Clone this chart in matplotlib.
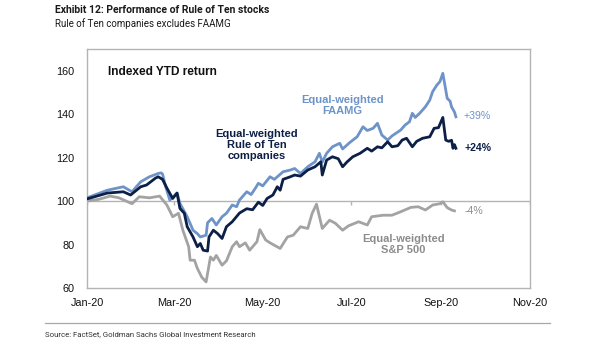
"""
Exhibit 12 -- Performance of Rule of Ten stocks (indexed YTD return, 2020).
Values read off the published chart.
"""
import matplotlib
matplotlib.use("Agg")
import matplotlib.pyplot as plt
import pandas as pd

START = pd.Timestamp("2020-01-01")

# day offsets from 1 Jan 2020 and index levels, per series
SPX_DAYS = [0, 8, 16, 22, 28, 31, 36, 43, 50, 55, 59, 63, 66, 70, 71, 74, 76, 79, 82,
            85, 87, 89, 93, 96, 100, 103, 105, 109, 112, 117, 119, 123, 126, 133, 138,
            142, 147, 152, 155, 158, 162, 167, 171, 176, 180, 187, 193, 196, 204, 210,
            216, 223, 228, 233, 238, 243, 245, 248, 251, 253]
SPX_VALS = [100.0, 100.8, 102.3, 101.5, 99.7, 98.8, 102.0, 101.5, 102.3, 98.2, 92.8,
            94.4, 86.6, 79.0, 72.8, 72.8, 69.0, 65.0, 62.8, 74.3, 72.8, 75.0, 70.5, 72.5,
            79.0, 81.3, 79.0, 80.8, 77.4, 81.3, 86.9, 82.1, 80.8, 78.2, 83.5, 84.3, 88.2,
            87.4, 94.3, 98.6, 87.4, 91.2, 89.8, 86.6, 88.6, 90.5, 89.0, 92.8, 93.5, 93.5,
            95.1, 97.1, 97.4, 95.9, 98.2, 98.8, 99.7, 97.0, 95.9, 95.5]

ROT_DAYS = [0, 14, 25, 30, 37, 41, 47, 49, 52, 55, 59, 62, 64, 67, 69, 73, 76, 78, 80,
            83, 84, 87, 90, 93, 96, 100, 105, 110, 114, 118, 121, 124, 128, 131, 133,
            135, 140, 143, 147, 152, 157, 161, 162, 165, 169, 173, 176, 179, 183, 188,
            193, 196, 200, 203, 207, 210, 214, 217, 220, 224, 227, 231, 236, 239, 242,
            245, 247, 249, 251, 252, 253, 254]
ROT_VALS = [101.0, 103.7, 104.3, 102.8, 106.6, 107.4, 110.5, 111.2, 110.0, 106.0, 101.2,
            103.7, 96.6, 94.4, 88.2, 83.5, 79.0, 80.5, 77.4, 77.0, 83.5, 86.6, 85.0, 82.8,
            88.2, 90.5, 94.5, 96.5, 96.0, 99.5, 98.0, 101.2, 102.8, 106.6, 105.0, 110.0,
            111.2, 112.0, 111.5, 114.3, 115.8, 118.1, 112.0, 118.9, 120.4, 119.5, 115.8,
            118.0, 120.4, 122.0, 124.3, 123.0, 125.0, 124.5, 127.3, 125.0, 125.5, 128.1,
            128.9, 125.0, 127.5, 128.9, 129.6, 133.5, 133.8, 138.5, 128.1, 127.5, 128.0,
            124.3, 126.0, 124.3]

FAAMG_DAYS = [0, 14, 25, 31, 37, 43, 49, 51, 52, 54, 57, 62, 64, 69, 73, 76, 78, 82, 83,
              86, 89, 93, 96, 100, 103, 105, 107, 110, 113, 116, 118, 121, 126, 129, 135,
              140, 143, 147, 152, 157, 160, 162, 165, 169, 174, 176, 181, 186, 190, 193,
              197, 200, 203, 207, 210, 216, 219, 222, 224, 226, 229, 233, 236, 238, 241,
              243, 245, 248, 250, 251, 253, 254]
FAAMG_VALS = [101.5, 105.0, 106.6, 104.3, 108.9, 111.2, 112.7, 113.0, 112.5, 107.0, 100.5,
              103.7, 98.9, 92.8, 86.6, 85.0, 83.5, 84.3, 90.0, 92.0, 89.0, 92.8, 94.4, 98.2,
              97.4, 100.5, 102.0, 104.3, 103.0, 106.0, 108.2, 107.0, 111.2, 110.0, 113.5,
              114.3, 115.0, 112.7, 115.8, 118.1, 122.0, 118.0, 122.0, 125.0, 126.6, 124.0,
              127.0, 129.6, 134.2, 132.5, 133.5, 135.8, 130.4, 128.1, 130.0, 132.7, 135.0,
              136.5, 140.4, 138.5, 140.4, 143.4, 146.5, 150.4, 153.5, 155.0, 158.8, 147.3,
              146.0, 143.4, 141.0, 138.8]

TICK_DATES = ["2020-01-01", "2020-03-01", "2020-05-01", "2020-07-01", "2020-09-01", "2020-11-01"]
TICK_LABELS = ["Jan-20", "Mar-20", "May-20", "Jul-20", "Sep-20", "Nov-20"]
Y_TICKS = [60, 80, 100, 120, 140, 160]

C_FAAMG = "#6E93C8"
C_ROT = "#0C1F47"
C_SPX = "#A3A3A3"
C_FRAME = "#B4B4B4"

BODY = ["Liberation Sans", "DejaVu Sans"]
NARROW = ["Liberation Sans Narrow", "Roboto", "DejaVu Sans"]


def to_dates(days):
    return [START + pd.Timedelta(days=d) for d in days]


def d(day):
    return START + pd.Timedelta(days=day)


fig = plt.figure(figsize=(6.05, 3.41), dpi=100)
ax = fig.add_axes([0.1438, 0.1554, 0.7322, 0.7009])

ax.axhline(100, color=C_FRAME, linewidth=1.0, zorder=1)
ticks = pd.to_datetime(TICK_DATES)
ax.vlines(ticks, 98.2, 100, color=C_FRAME, linewidth=1.0, zorder=1)

ax.plot(to_dates(SPX_DAYS), SPX_VALS, color=C_SPX, linewidth=2.0, zorder=2)
ax.plot(to_dates(FAAMG_DAYS), FAAMG_VALS, color=C_FAAMG, linewidth=2.0, zorder=3)
ax.plot(to_dates(ROT_DAYS), ROT_VALS, color=C_ROT, linewidth=2.0, zorder=4)

ax.set_xlim(ticks[0], ticks[-1])
ax.set_ylim(60, 170)
ax.set_yticks(Y_TICKS)
ax.set_yticklabels([str(v) for v in Y_TICKS], family=BODY, fontsize=7.8)
ax.set_xticks(ticks)
ax.set_xticklabels(TICK_LABELS, family=BODY, fontsize=7.8)
ax.tick_params(length=0, pad=9, colors="#111111")
ax.tick_params(axis="x", pad=7)
for sp in ax.spines.values():
    sp.set_color(C_FRAME)
    sp.set_linewidth(1.0)

ax.text(0.048, 0.905, "Indexed YTD return", transform=ax.transAxes, family=BODY,
        fontsize=8.6, fontweight="bold", color="#111111", va="center")

ax.text(d(117), 125.8, "Equal-weighted\nRule of Ten\ncompanies", family=BODY, fontsize=8.0,
        fontweight="bold", color=C_ROT, ha="center", va="center", linespacing=1.12)
ax.text(d(176), 143.8, "Equal-weighted\nFAAMG", family=BODY, fontsize=8.0,
        fontweight="bold", color=C_FAAMG, ha="center", va="center", linespacing=1.12)
ax.text(d(218), 80, "Equal-weighted\nS&P 500", family=BODY, fontsize=8.0,
        fontweight="bold", color="#8C8C8C", ha="center", va="center", linespacing=1.12)

ax.text(d(259), 139, "+39%", family=BODY, fontsize=7.6, color=C_FAAMG, va="center")
ax.text(d(260), 124.5, "+24%", family=BODY, fontsize=7.6, fontweight="bold",
        color=C_ROT, va="center")
ax.text(d(260), 95.5, "-4%", family=BODY, fontsize=7.6, color="#8C8C8C", va="center")

fig.text(55 / 605, 1 - 10 / 341, "Exhibit 12: Performance of Rule of Ten stocks",
         family=NARROW, fontsize=7.5, fontweight="bold", color="#1A1A1A", va="center")
fig.text(55 / 605, 1 - 24 / 341, "Rule of Ten companies excludes FAAMG",
         family=NARROW, fontsize=7.0, color="#1A1A1A", va="center")

fig.add_artist(plt.Line2D([45 / 605, 550 / 605], [1 - 323 / 341] * 2,
                          color="#A8A8A8", linewidth=0.9))
fig.text(45 / 605, 1 - 334 / 341, "Source: FactSet, Goldman Sachs Global Investment Research",
         family=NARROW, fontsize=5.6, color="#333333", va="center")

fig.savefig("out.png", dpi=100)
